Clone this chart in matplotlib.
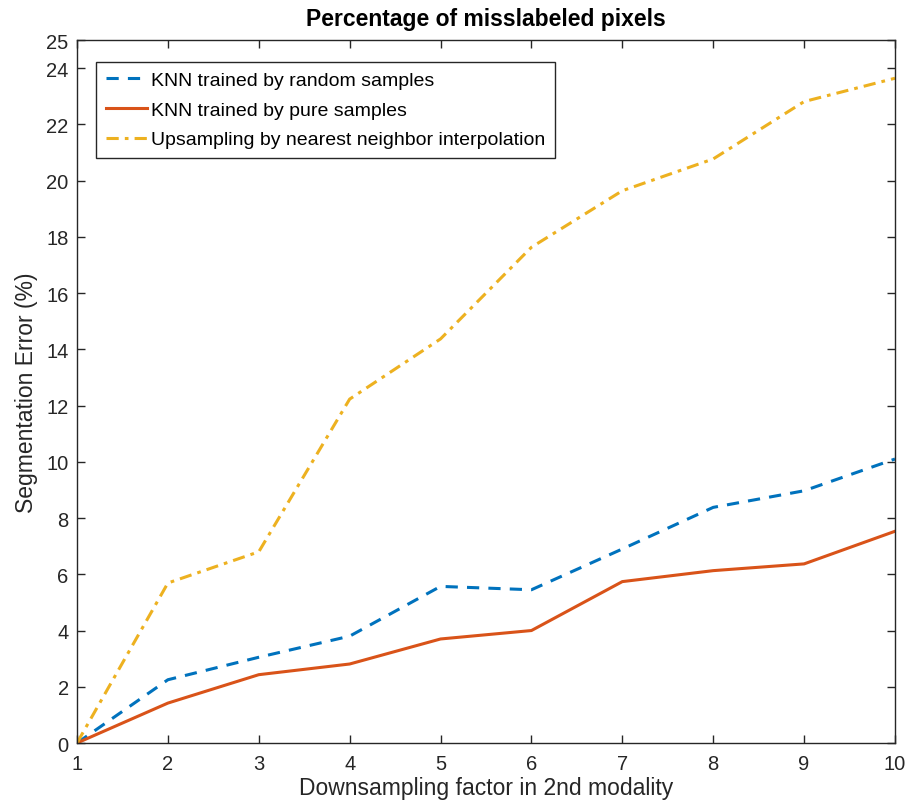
import numpy as np
import matplotlib
matplotlib.use("Agg")
import matplotlib.pyplot as plt

# downsampling factors and segmentation error (%) per method
factors = [1, 2, 3, 4, 5, 6, 7, 8, 9, 10]
knn_random = [0.0, 2.25, 3.05, 3.80, 5.57, 5.45, 6.90, 8.38, 8.97, 10.10]
knn_pure = [0.0, 1.42, 2.43, 2.81, 3.70, 4.00, 5.74, 6.13, 6.37, 7.53]
nn_upsampling = [0.0, 5.69, 6.80, 12.23, 14.37, 17.63, 19.64, 20.77, 22.81, 23.64]

labels = ["KNN trained by random samples",
          "KNN trained by pure samples",
          "Upsampling by nearest neighbor interpolation"]
yticks = [0, 2, 4, 6, 8, 10, 12, 14, 16, 18, 20, 22, 24, 25]

plt.rcParams['font.family'] = ['Liberation Sans', 'DejaVu Sans']

fig = plt.figure(figsize=(9.1, 8.04), dpi=100)
ax = fig.add_axes([0.0846, 0.0746, 0.8989, 0.8744])

ax.plot(factors, knn_random, color="#0072BD", lw=2.2, dashes=(4, 3), label=labels[0])
ax.plot(factors, knn_pure, color="#D95319", lw=2.2, label=labels[1])
ax.plot(factors, nn_upsampling, color="#EDB120", lw=2.2, dashes=(4, 2, 1.2, 2), label=labels[2])

ax.set_xlim(1, 10)
ax.set_ylim(0, 25)
ax.set_xticks(factors)
ax.set_yticks(yticks)

for s in ax.spines.values():
    s.set_color("#262626")
    s.set_linewidth(1.0)
ax.tick_params(direction="in", top=True, right=True, length=6, width=1.0,
               colors="#262626", labelsize=14.5)
ax.tick_params(axis="x", pad=8)
ax.tick_params(axis="y", pad=6)

ax.set_title("Percentage of misslabeled pixels", fontsize=16.5, fontweight="bold", pad=11)
ax.set_xlabel("Downsampling factor in 2nd modality", fontsize=16.5, color="#262626", labelpad=2)
ax.set_ylabel("Segmentation Error (%)", fontsize=16.5, color="#262626", labelpad=6)

leg = ax.legend(loc="upper left", bbox_to_anchor=(0.023, 0.969), borderaxespad=0,
                fontsize=14, handlelength=2.15, handletextpad=0.2, fancybox=False,
                framealpha=1, borderpad=0.5, labelspacing=0.62)
leg.get_frame().set_edgecolor("#262626")
leg.get_frame().set_linewidth(1.0)

fig.savefig("out.png", dpi=100)
